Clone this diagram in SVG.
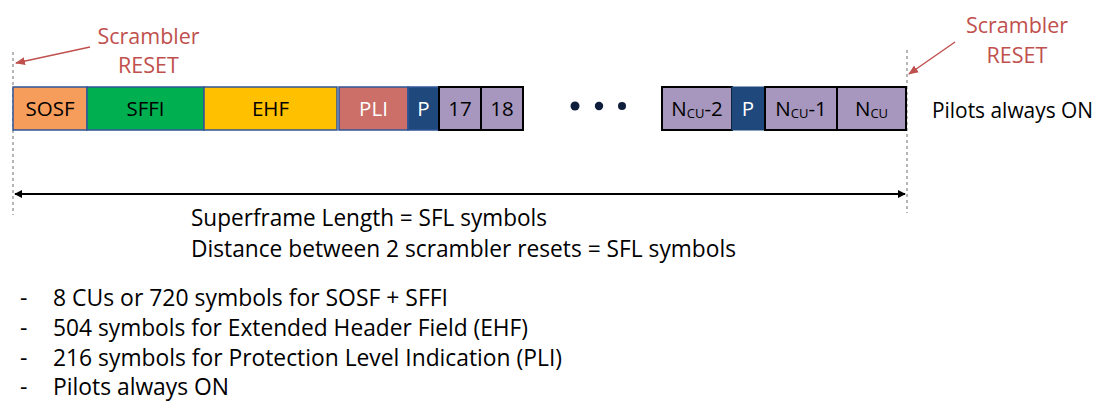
<svg xmlns="http://www.w3.org/2000/svg" width="1099" height="403" viewBox="0 0 1099 403">
<defs>
<style>
text{font-family:"Open Sans","Noto Sans","Liberation Sans",sans-serif;}
.red{fill:#C0504D;font-size:21.5px;text-anchor:middle;}
.lbl{font-size:20.5px;text-anchor:middle;dominant-baseline:central;fill:#000;}
.wl{fill:#fff;}
.sub{font-size:13px;}
.body{font-size:23px;fill:#000;}
.side{font-size:21px;fill:#000;}
.cb{stroke:#2F5597;stroke-width:1.5;}
.pb{fill:#A797BE;stroke:#000;stroke-width:2;}
.dash{stroke:#888;stroke-width:1.2;stroke-dasharray:3,3;fill:none;}
</style>
<marker id="ah" viewBox="0 0 10 10" refX="9" refY="5" markerWidth="8" markerHeight="8" orient="auto-start-reverse" markerUnits="userSpaceOnUse">
<path d="M0,0 L10,5 L0,10 z" fill="#000"/>
</marker>
<marker id="rah" viewBox="0 0 10 10" refX="9" refY="5" markerWidth="10" markerHeight="10" orient="auto" markerUnits="userSpaceOnUse">
<path d="M0,1 L10,5 L0,9 z" fill="#C0504D"/>
</marker>
</defs>

<g id="connectors">
<line class="dash" x1="13" y1="52" x2="13" y2="215"/>
<line class="dash" x1="907" y1="50" x2="907" y2="213"/>
<line x1="15" y1="194" x2="905" y2="194" stroke="#000" stroke-width="1.8" marker-start="url(#ah)" marker-end="url(#ah)"/>
<line x1="90" y1="47" x2="16" y2="63" stroke="#C0504D" stroke-width="1.5" marker-end="url(#rah)"/>
<line x1="955" y1="42" x2="909" y2="74" stroke="#C0504D" stroke-width="1.5" marker-end="url(#rah)"/>
</g>

<g id="reset-left">
<text class="red" x="148.5" y="44">Scrambler</text>
<text class="red" x="148.5" y="73">RESET</text>
</g>
<g id="reset-right">
<text class="red" x="1017" y="33">Scrambler</text>
<text class="red" x="1017" y="63">RESET</text>
</g>

<g id="sosf"><rect class="cb" x="13" y="87" width="74" height="43" fill="#F79D5B"/><text class="lbl" x="50" y="108">SOSF</text></g>
<g id="sffi"><rect class="cb" x="87" y="87" width="117" height="43" fill="#00B050"/><text class="lbl" x="145.5" y="108">SFFI</text></g>
<g id="ehf"><rect class="cb" x="204" y="87" width="133" height="43" fill="#FFC000"/><text class="lbl" x="270.5" y="108">EHF</text></g>
<g id="pli"><rect class="cb" x="339" y="87" width="69" height="43" fill="#CB6F68"/><text class="lbl wl" x="373.5" y="108">PLI</text></g>
<g id="p1"><rect class="cb" x="408" y="87" width="31" height="43" fill="#1F497D"/><text class="lbl wl" x="423.5" y="108">P</text></g>
<g id="b17"><rect class="pb" x="439" y="87" width="42" height="43"/><text class="lbl" x="460" y="108">17</text></g>
<g id="b18"><rect class="pb" x="481" y="87" width="42" height="43"/><text class="lbl" x="502" y="108">18</text></g>

<g id="dots" fill="#0F1E3C">
<circle cx="575" cy="106" r="4.5"/>
<circle cx="599" cy="106" r="4.2"/>
<circle cx="622" cy="106" r="4"/>
</g>

<g id="ncu2"><rect class="pb" x="662" y="87" width="70" height="43"/><text class="lbl" x="697" y="108">N<tspan class="sub" dy="5">CU</tspan><tspan dy="-5">-2</tspan></text></g>
<g id="p2"><rect x="732" y="87" width="32" height="43" fill="#1F497D" stroke="#1F497D"/><text class="lbl wl" x="748" y="108">P</text></g>
<g id="ncu1"><rect class="pb" x="765" y="87" width="72" height="43"/><text class="lbl" x="801" y="108">N<tspan class="sub" dy="5">CU</tspan><tspan dy="-5">-1</tspan></text></g>
<g id="ncu"><rect class="pb" x="837" y="87" width="69" height="43"/><text class="lbl" x="871.5" y="108">N<tspan class="sub" dy="5">CU</tspan></text></g>

<g id="pilots-label"><text class="side" x="932" y="118" textLength="161" lengthAdjust="spacingAndGlyphs">Pilots always ON</text></g>

<g id="length-label">
<text class="body" x="191" y="226" textLength="356" lengthAdjust="spacingAndGlyphs">Superframe Length = SFL symbols</text>
<text class="body" x="191" y="257" textLength="545" lengthAdjust="spacingAndGlyphs">Distance between 2 scrambler resets = SFL symbols</text>
</g>

<g id="notes">
<text class="body" x="20" y="306">-</text><text class="body" x="53" y="306" textLength="395" lengthAdjust="spacingAndGlyphs">8 CUs or 720  symbols for SOSF + SFFI</text>
<text class="body" x="20" y="336">-</text><text class="body" x="53" y="336" textLength="475" lengthAdjust="spacingAndGlyphs">504 symbols for Extended Header Field (EHF)</text>
<text class="body" x="20" y="366">-</text><text class="body" x="53" y="366" textLength="509" lengthAdjust="spacingAndGlyphs">216 symbols for Protection Level Indication (PLI)</text>
<text class="body" x="20" y="395">-</text><text class="body" x="53" y="395" textLength="176" lengthAdjust="spacingAndGlyphs">Pilots always ON</text>
</g>
</svg>
